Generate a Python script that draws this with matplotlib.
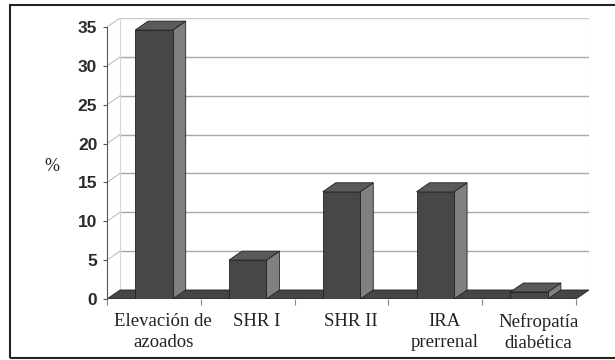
import numpy as np
import matplotlib.pyplot as plt
from matplotlib.patches import Polygon, Rectangle

categorias = ['Elevación de\nazoados', 'SHR I', 'SHR II', 'IRA\nprerrenal', 'Nefropatía\ndiabética']
porcentajes = [34.6, 5.0, 13.8, 13.8, 0.9]
yticks = [0, 5, 10, 15, 20, 25, 30, 35]

# depth of the 3D effect, in data units
dx = 0.139
dy = 1.16
ancho = 0.4

fig = plt.figure(figsize=(6.15, 3.6), dpi=100)
ax = fig.add_axes([107/615, 61/360, 482/615, 281/360])
n = len(categorias)
ax.set_xlim(0, n + dx)
ax.set_ylim(0, 35 + dy)

# back wall with gridlines
for v in yticks[1:]:
    c = '#c8c8c8' if v == 35 else '#a8a8a8'
    ax.plot([dx, n + dx], [v + dy, v + dy], color=c, lw=1.0, zorder=1)
    ax.plot([0, dx], [v, v + dy], color='#c0c0c0', lw=0.8, zorder=1)
ax.plot([dx, dx], [dy, 35 + dy], color='#d8d8d8', lw=0.8, zorder=1)
ax.plot([n + dx, n + dx], [dy, 35 + dy], color='#d8d8d8', lw=0.8, zorder=1)

# floor
ax.add_patch(Polygon([(0, 0), (n, 0), (n + dx, dy), (dx, dy)], closed=True,
                     facecolor='#454545', edgecolor='#222222', lw=0.6, zorder=2))

# bars
for i, v in enumerate(porcentajes):
    xc = i + 0.5
    x0, x1 = xc - ancho/2, xc + ancho/2
    ax.add_patch(Polygon([(x1, 0), (x1 + dx, dy), (x1 + dx, v + dy), (x1, v)], closed=True,
                         facecolor='#808080', edgecolor='#222222', lw=0.6, zorder=3))
    ax.add_patch(Polygon([(x0, v), (x1, v), (x1 + dx, v + dy), (x0 + dx, v + dy)], closed=True,
                         facecolor='#5a5a5a', edgecolor='#222222', lw=0.6, zorder=3))
ax.bar([i + 0.5 for i in range(n)], porcentajes, width=ancho, color='#474747',
       edgecolor='#222222', linewidth=0.6, zorder=4)

for s in ['top', 'right', 'bottom']:
    ax.spines[s].set_visible(False)
ax.spines['left'].set_bounds(0, 35)
ax.spines['left'].set_color('#555555')
ax.spines['left'].set_zorder(5)

ax.set_yticks(yticks)
ax.set_yticklabels([str(t) for t in yticks], fontsize=12.5, fontweight='bold',
                   family='Liberation Sans', color='#2a2a2a')
ax.tick_params(axis='y', length=3, width=0.8, color='#555555', pad=4)

ax.set_xticks([i + 0.6 for i in range(n)])
ax.set_xticklabels(categorias, fontsize=13.5, family='Liberation Serif',
                   color='#222222', linespacing=1.35)
ax.tick_params(axis='x', length=0, pad=10)
ax.set_xticks(np.arange(0, n + 1), minor=True)
ax.tick_params(axis='x', which='minor', length=4, width=0.8, color='#888888')

ax.set_ylabel('%', rotation=0, fontsize=13, family='Liberation Serif', color='#222222')
ax.yaxis.set_label_coords(-0.114, 0.44)

# frame around the chart
fig.patches.append(Rectangle((10/615, 2/360), 620/615, 353/360, transform=fig.transFigure,
                             fill=False, edgecolor='#222222', lw=1.5))

fig.savefig('out.png', dpi=100)
